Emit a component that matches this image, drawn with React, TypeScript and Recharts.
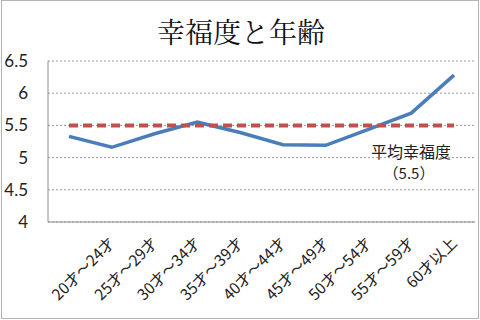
import React from 'react';
import { LineChart, Line, XAxis, YAxis, CartesianGrid, ReferenceLine } from 'recharts';

const categories = ['', '20才～24才', '25才～29才', '30才～34才', '35才～39才', '40才～44才', '45才～49才', '50才～54才', '55才～59才', '60才以上'];
const happiness = [5.33, 5.16, 5.37, 5.55, 5.39, 5.2, 5.19, 5.44, 5.69, 6.28];
const average = [5.5, 5.5, 5.5, 5.5, 5.5, 5.5, 5.5, 5.5, 5.5, 5.5];
const yTicks = [4, 4.5, 5, 5.5, 6, 6.5];
const title = '幸福度と年齢';
const avgLabel = '平均幸福度';
const avgValueLabel = '（5.5）';

const data = categories.map((c, i) => ({ cat: c, idx: i, happiness: happiness[i], average: average[i] }));

const CJK = "'Noto Sans CJK JP', 'Noto Sans', sans-serif";

const XTick = (props: any) => {
  const { x, y, payload } = props;
  const label = categories[payload.value] ?? '';
  return (
    <text
      x={0}
      y={0}
      transform={`translate(${x + 4},${y + 22}) rotate(-45)`}
      textAnchor="end"
      fontSize={15.5}
      fontFamily={CJK}
      fill="#222"
    >
      {label}
    </text>
  );
};

const AvgLabel = (props: any) => {
  const vb = props.viewBox || {};
  const right = vb.x + vb.width;
  const cy = vb.y;
  return (
    <g>
      <text x={right - 64} y={cy + 33} textAnchor="middle" fontSize={16} fontFamily={CJK} fill="#222">
        {avgLabel}
      </text>
      <text x={right - 66} y={cy + 54} textAnchor="middle" fontSize={15} fontFamily={CJK} fill="#222">
        {avgValueLabel}
      </text>
    </g>
  );
};

export default function App() {
  return (
    <div style={{ position: 'absolute', left: 0, top: 0, width: 480, height: 320, background: '#fff' }}>
      <div
        style={{
          position: 'absolute',
          left: 0,
          top: 12,
          width: 482,
          textAlign: 'center',
          fontSize: 28,
          lineHeight: '38px',
          fontFamily: "'Noto Serif CJK JP', 'Noto Sans CJK JP', serif",
          color: '#111',
        }}
      >
        {title}
      </div>
      <div style={{ position: 'absolute', left: 0, top: 0 }}>
        <LineChart width={480} height={320} data={data} margin={{ top: 61, right: 5, left: 0, bottom: 0 }}>
          <CartesianGrid vertical={false} stroke="#9a9a9a" strokeDasharray="2 2" />
          <XAxis
            dataKey="idx"
            type="category"
            height={98}
            padding={{ left: 21, right: 21 }}
            axisLine={{ stroke: '#8c8c8c' }}
            tickLine={false}
            tickSize={0}
            tickMargin={0}
            interval={0}
            tick={<XTick />}
          />
          <YAxis
            type="number"
            domain={[4, 6.5]}
            ticks={yTicks}
            width={48}
            axisLine={{ stroke: '#8c8c8c' }}
            tickLine={false}
            tickSize={0}
            tickMargin={20}
            interval={0}
            tick={{ fontSize: 17, fill: '#222', fontFamily: 'Lato, sans-serif' }}
          />
          <ReferenceLine y={5.5} stroke="none" strokeOpacity={0} label={<AvgLabel />} />
          <Line
            dataKey="happiness"
            stroke="#4A7EBB"
            strokeWidth={3.5}
            dot={false}
            type="linear"
            isAnimationActive={false}
          />
          <Line
            dataKey="average"
            stroke="#C0504D"
            strokeWidth={4}
            strokeDasharray="9 5"
            dot={false}
            type="linear"
            isAnimationActive={false}
          />
        </LineChart>
      </div>
      <div
        style={{
          position: 'absolute',
          left: 1,
          top: 0,
          width: 478,
          height: 319,
          boxSizing: 'border-box',
          border: '1px solid #b4b4b4',
          pointerEvents: 'none',
        }}
      />
    </div>
  );
}
